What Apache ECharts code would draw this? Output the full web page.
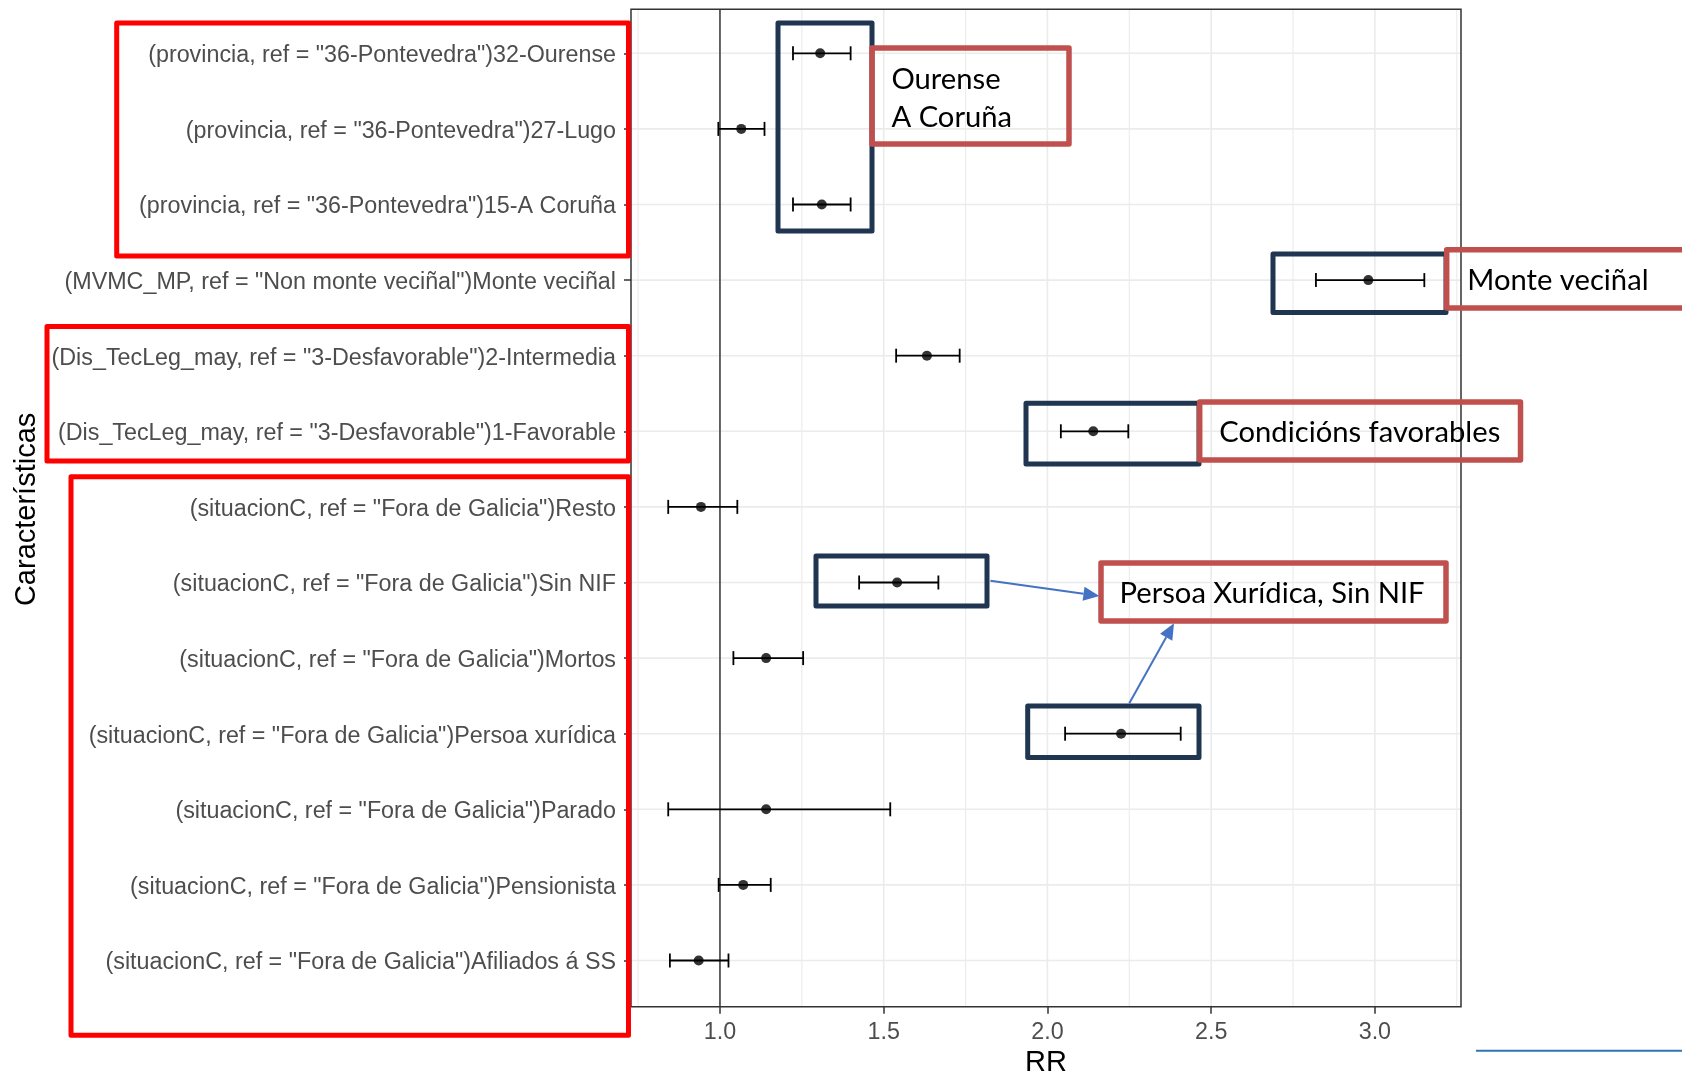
<!DOCTYPE html>
<html>
<head>
<meta charset="utf-8">
<script src="https://cdn.jsdelivr.net/npm/echarts@6/dist/echarts.min.js"></script>
<style>
html, body { margin: 0; padding: 0; background: #ffffff; }
#chart { width: 1682px; height: 1075px; }
</style>
</head>
<body>
<div id="chart"></div>
<script>
// ---------------- data ----------------
const categories = [
  '(provincia, ref = "36-Pontevedra")32-Ourense',
  '(provincia, ref = "36-Pontevedra")27-Lugo',
  '(provincia, ref = "36-Pontevedra")15-A Coruña',
  '(MVMC_MP, ref = "Non monte veciñal")Monte veciñal',
  '(Dis_TecLeg_may, ref = "3-Desfavorable")2-Intermedia',
  '(Dis_TecLeg_may, ref = "3-Desfavorable")1-Favorable',
  '(situacionC, ref = "Fora de Galicia")Resto',
  '(situacionC, ref = "Fora de Galicia")Sin NIF',
  '(situacionC, ref = "Fora de Galicia")Mortos',
  '(situacionC, ref = "Fora de Galicia")Persoa xurídica',
  '(situacionC, ref = "Fora de Galicia")Parado',
  '(situacionC, ref = "Fora de Galicia")Pensionista',
  '(situacionC, ref = "Fora de Galicia")Afiliados á SS'
];
const rr    = [1.306, 1.065, 1.311, 2.980, 1.632, 2.140, 0.942, 1.541, 1.141, 2.225, 1.141, 1.071, 0.935];
const lower = [1.223, 0.995, 1.223, 2.820, 1.538, 2.041, 0.842, 1.425, 1.041, 2.054, 0.842, 0.996, 0.847];
const upper = [1.399, 1.136, 1.399, 3.151, 1.732, 2.247, 1.053, 1.667, 1.254, 2.407, 1.520, 1.155, 1.026];

const xTickValues  = [1.0, 1.5, 2.0, 2.5, 3.0];
const xMinorValues = [0.75, 1.25, 1.75, 2.25, 2.75, 3.25];
const xRange = [0.7283, 3.263];
const referenceRR = 1;
const xTitle = 'RR';
const yTitle = 'Características';

const noteOurense = 'Ourense';
const noteCoruna  = 'A Coruña';
const noteMonte   = 'Monte veciñal';
const noteCond    = 'Condicións favorables';
const notePersoa  = 'Persoa Xurídica, Sin NIF';

// ---------------- layout / style ----------------
const PANEL  = { left: 631, right: 221, top: 9.3, bottom: 68.3 };
const ROWS   = { left: 631, right: 221, top: 15.5, bottom: 76.7 };
const LABELS = { left: 631, right: 221, top: 18.0, bottom: 74.2 };
const AXIS_FONT = 'Liberation Sans, Arial, sans-serif';
const NOTE_FAMILY = 'Lato, Carlito, Calibri, sans-serif';
const GRID_COLOR = '#EBEBEB';
const NAVY = '#1F3550';
const BRICK = '#C0504D';
const RED = '#FF0000';
const ARROW = '#4472C4';

function fitSize(text, family, target) {
  const ctx = document.createElement('canvas').getContext('2d');
  ctx.font = '100px ' + family;
  return 100 * target / ctx.measureText(text).width;
}
const noteSize = fitSize(noteCond, NOTE_FAMILY, 281);
const noteFont = noteSize.toFixed(2) + 'px ' + NOTE_FAMILY;

function box(x, y, w, h, color, lw) {
  return { type: 'rect', z: 100, shape: { x: x, y: y, width: w, height: h },
    style: { fill: 'none', stroke: color, lineWidth: lw, lineJoin: 'round' }, silent: true };
}
function note(text, x, y) {
  return { type: 'text', z: 101, x: x, y: y,
    style: { text: text, font: noteFont, fill: '#000000', align: 'left', verticalAlign: 'middle' }, silent: true };
}
function arrow(x1, y1, x2, y2) {
  const dx = x2 - x1, dy = y2 - y1, L = Math.hypot(dx, dy), ux = dx / L, uy = dy / L;
  const hl = 16, hw = 7;
  const bx = x2 - ux * hl, by = y2 - uy * hl;
  return [
    { type: 'line', z: 101, shape: { x1: x1, y1: y1, x2: bx, y2: by }, style: { stroke: ARROW, lineWidth: 2 }, silent: true },
    { type: 'polygon', z: 101, shape: { points: [[x2, y2], [bx - uy * hw, by + ux * hw], [bx + uy * hw, by - ux * hw]] },
      style: { fill: ARROW }, silent: true }
  ];
}

const graphics = [
  // label group boxes
  box(116.7, 23, 511.8, 233, RED, 5),
  box(47, 326.5, 581.5, 134.5, RED, 5),
  box(71, 476.7, 557.5, 558.6, RED, 5),
  // data highlight boxes
  box(778, 23, 94, 208, NAVY, 5),
  box(1273, 254, 173, 58.5, NAVY, 5),
  box(1026, 403.3, 173, 60.7, NAVY, 5),
  box(816, 556, 171, 50, NAVY, 5),
  box(1027.7, 706, 171.3, 51.5, NAVY, 5),
  // callout boxes
  box(872, 48, 197, 96, BRICK, 5.5),
  box(1446.7, 249.7, 260, 58.3, BRICK, 5.5),
  box(1199.7, 402, 320.8, 58, BRICK, 5.5),
  box(1101, 563, 345, 58, BRICK, 5.5),
  // callout texts
  note(noteOurense, 891.4, 79.5),
  note(noteCoruna, 891.4, 117.5),
  note(noteMonte, 1467.3, 281),
  note(noteCond, 1219.3, 433),
  note(notePersoa, 1119.5, 594),
  ...arrow(990.4, 580.7, 1099.4, 596),
  ...arrow(1129.3, 703.3, 1174, 623.3),
  { type: 'line', z: 101, shape: { x1: 1476, y1: 1050.7, x2: 1690, y2: 1050.7 },
    style: { stroke: '#2E75B6', lineWidth: 2 }, silent: true }
];

// ---------------- chart ----------------
const chart = echarts.init(document.getElementById('chart'), null, { renderer: 'canvas' });

const gridBase = { show: false, containLabel: false, outerBoundsMode: 'none' };
const option = {
  animation: false,
  backgroundColor: '#ffffff',
  grid: [
    Object.assign({}, gridBase, PANEL),
    Object.assign({}, gridBase, ROWS),
    Object.assign({}, gridBase, LABELS)
  ],
  xAxis: [
    {
      type: 'value', gridIndex: 0, min: xRange[0], max: xRange[1],
      axisLine: { show: false },
      axisTick: { show: true, customValues: xTickValues, length: 7, lineStyle: { color: '#333333', width: 1.5 } },
      axisLabel: { show: true, customValues: xTickValues, margin: 14, color: '#4D4D4D', fontSize: 23.3,
        fontFamily: AXIS_FONT, formatter: function (v) { return Number(v).toFixed(1); } },
      splitLine: { show: false },
      name: xTitle, nameLocation: 'middle', nameGap: 42,
      nameTextStyle: { color: '#000000', fontSize: 29, fontFamily: AXIS_FONT }
    },
    { type: 'value', gridIndex: 1, min: xRange[0], max: xRange[1], show: false, splitLine: { show: false } },
    { type: 'value', gridIndex: 2, min: xRange[0], max: xRange[1], show: false, splitLine: { show: false } }
  ],
  yAxis: [
    { type: 'value', gridIndex: 0, min: 0, max: 1, show: false, splitLine: { show: false } },
    { // category axis for data rows: ticks
      type: 'category', gridIndex: 1, data: categories, inverse: true,
      axisLine: { show: false },
      axisTick: { show: true, alignWithLabel: true, length: 7, lineStyle: { color: '#333333', width: 1.5 } },
      axisLabel: { show: false },
      splitLine: { show: false }
    },
    { // same categories: tick labels and axis title
      type: 'category', gridIndex: 2, data: categories, inverse: true,
      axisLine: { show: false },
      axisTick: { show: false },
      axisLabel: { show: true, interval: 0, margin: 15, color: '#4D4D4D', fontSize: 23.3, fontFamily: AXIS_FONT },
      splitLine: { show: false },
      name: yTitle, nameLocation: 'middle', nameRotate: 90, nameGap: 590,
      nameTextStyle: { color: '#000000', fontSize: 29, fontFamily: AXIS_FONT }
    }
  ],
  series: [
    { // vertical grid lines
      type: 'custom', xAxisIndex: 0, yAxisIndex: 0, z: 1, silent: true, clip: false,
      encode: { x: 0, y: 1 },
      data: xTickValues.map(v => [v, 0, 1]).concat(xMinorValues.map(v => [v, 0, 0])),
      renderItem: function (params, api) {
        const p1 = api.coord([api.value(0), 0]);
        const p2 = api.coord([api.value(0), 1]);
        return { type: 'line', shape: { x1: p1[0], y1: p1[1], x2: p2[0], y2: p2[1] },
          style: { stroke: GRID_COLOR, lineWidth: api.value(2) ? 1.6 : 1.1 } };
      }
    },
    { // horizontal grid lines at each category
      type: 'custom', xAxisIndex: 1, yAxisIndex: 1, z: 1, silent: true, clip: false,
      encode: { x: 0, y: 1 },
      data: categories.map((c, i) => [xRange[0], i]),
      renderItem: function (params, api) {
        const cs = params.coordSys;
        const y = api.coord([xRange[0], api.value(1)])[1];
        return { type: 'line', shape: { x1: cs.x, y1: y, x2: cs.x + cs.width, y2: y },
          style: { stroke: GRID_COLOR, lineWidth: 1.6 } };
      }
    },
    { // reference line RR = 1
      type: 'custom', xAxisIndex: 0, yAxisIndex: 0, z: 2, silent: true, clip: false,
      encode: { x: 0, y: 1 },
      data: [[referenceRR, 0]],
      renderItem: function (params, api) {
        const p1 = api.coord([api.value(0), 0]);
        const p2 = api.coord([api.value(0), 1]);
        return { type: 'line', shape: { x1: p1[0], y1: p1[1], x2: p2[0], y2: p2[1] },
          style: { stroke: '#1a1a1a', lineWidth: 1.3 } };
      }
    },
    { // panel border
      type: 'custom', xAxisIndex: 0, yAxisIndex: 0, z: 5, silent: true, clip: false,
      encode: { x: 0, y: 1 },
      data: [[xRange[0], 0]],
      renderItem: function (params) {
        const cs = params.coordSys;
        return { type: 'rect', shape: { x: cs.x, y: cs.y, width: cs.width, height: cs.height },
          style: { fill: 'none', stroke: '#333333', lineWidth: 1.5 } };
      }
    },
    { // error bars
      type: 'custom', xAxisIndex: 1, yAxisIndex: 1, z: 3, silent: true, clip: false,
      encode: { x: [1, 2], y: 0 },
      data: categories.map((c, i) => [i, lower[i], upper[i]]),
      renderItem: function (params, api) {
        const i = api.value(0);
        const lo = api.coord([api.value(1), i]);
        const hi = api.coord([api.value(2), i]);
        const h = 7;
        const st = { stroke: '#000000', lineWidth: 1.8 };
        return { type: 'group', children: [
          { type: 'line', shape: { x1: lo[0], y1: lo[1], x2: hi[0], y2: hi[1] }, style: st },
          { type: 'line', shape: { x1: lo[0], y1: lo[1] - h, x2: lo[0], y2: lo[1] + h }, style: st },
          { type: 'line', shape: { x1: hi[0], y1: hi[1] - h, x2: hi[0], y2: hi[1] + h }, style: st }
        ] };
      }
    },
    { // point estimates
      type: 'scatter', xAxisIndex: 1, yAxisIndex: 1, z: 4, silent: true,
      symbol: 'circle', symbolSize: 10,
      itemStyle: { color: '#000000' },
      data: rr.map((v, i) => [v, i])
    }
  ],
  graphic: graphics
};
chart.setOption(option);
</script>
</body>
</html>
